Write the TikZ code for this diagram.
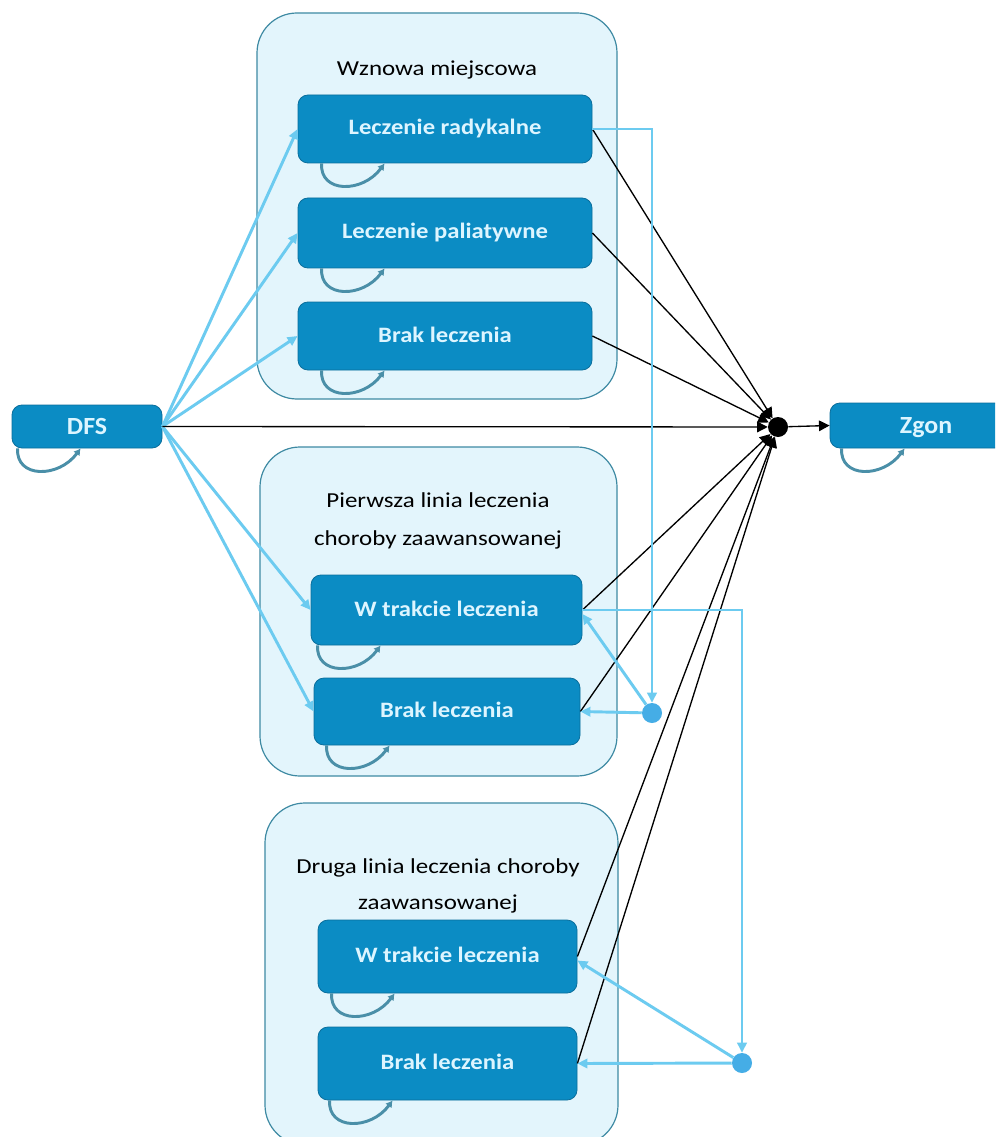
\documentclass[tikz,border=0pt]{standalone}
\usepackage{fontspec}
\setmainfont{Carlito}
\newfontfamily\widefont{Carlito}[FakeStretch=1.12]
\newfontfamily\titlefont{Carlito}[FakeStretch=1.17]
\newfontfamily\bigfont{Carlito}[FakeStretch=1.05]
\usetikzlibrary{arrows.meta,calc}
\definecolor{nodefill}{HTML}{0B8CC4}
\definecolor{nodeedge}{HTML}{0A6E9C}
\definecolor{nodetext}{HTML}{DDF5FF}
\definecolor{groupfill}{HTML}{E3F5FC}
\definecolor{groupedge}{HTML}{3E8AA3}
\definecolor{bluelink}{HTML}{6CCBF0}
\definecolor{bluedot}{HTML}{45ADE6}
\definecolor{loopcol}{HTML}{4A8FA8}
\newcommand\selfloop[2]{\draw[loopline] ($(#1.south west)+(#2,0)$) .. controls +(-2,30) and +(-22,30) .. ($(#1.south west)+(#2+63,0)$);}
\begin{document}
\begin{tikzpicture}[x=0.75pt,y=-0.75pt,
  group/.style={draw=groupedge, fill=groupfill, line width=0.9pt, rounded corners=30pt},
  grouptitle/.style={text=black, inner sep=0pt, font=\titlefont\fontsize{16}{28.5}\selectfont},
  state/.style={draw=nodeedge, fill=nodefill, rounded corners=7.5pt, line width=0.6pt, text=nodetext,
    font=\widefont\bfseries\fontsize{16.5}{19}\selectfont, inner sep=0pt, text height=11.5pt, text depth=2.5pt},
  bigstate/.style={state, font=\bigfont\bfseries\fontsize{18.5}{21}\selectfont, text height=13pt, text depth=1pt},
  bdot/.style={circle, fill=bluedot, minimum size=15pt, inner sep=0pt},
  kdot/.style={circle, fill=black, minimum size=15pt, inner sep=0pt},
  blink/.style={draw=bluelink, line width=2.2pt, -{Triangle[length=7.5pt,width=7pt]}},
  klink/.style={draw=black, line width=1pt, -{Triangle[length=8pt,width=8pt]}},
  loopline/.style={draw=loopcol, line width=2.2pt, -{Latex[length=5pt,width=6pt]}}
]
\useasboundingbox (0,0) rectangle (995,1137);
\clip (0,0) rectangle (995,1137);
\fill[white] (0,0) rectangle (995,1137);

% groups
\path[group] (257,13) rectangle (617,399);
\path[group] (260,447) rectangle (617,776);
\path[group] (265,803) rectangle (618,1145);

% titles
\node[grouptitle] (t1) at (437,70) {Wznowa miejscowa};
\node[grouptitle, align=center] (t2) at (438,521) {Pierwsza linia leczenia\\choroby zaawansowanej};
\node[grouptitle, align=center, font=\titlefont\fontsize{16}{26.5}\selectfont] (t3) at (438,886) {Druga linia leczenia choroby\\zaawansowanej};

% states
\node[state, minimum width=220.5pt, minimum height=51pt] (r1) at (445,129) {Leczenie radykalne};
\node[state, minimum width=220.5pt, minimum height=52.5pt] (p1) at (445,233) {Leczenie paliatywne};
\node[state, minimum width=220.5pt, minimum height=51pt] (b1) at (445,336) {Brak leczenia};
\node[state, minimum width=203.25pt, minimum height=52.5pt] (w2) at (446.5,610) {W trakcie leczenia};
\node[state, minimum width=199.5pt, minimum height=50.25pt] (b2) at (447,711.5) {Brak leczenia};
\node[state, minimum width=194.25pt, minimum height=54.75pt] (w3) at (447.5,956.5) {W trakcie leczenia};
\node[state, minimum width=194.25pt, minimum height=54.75pt] (b3) at (447.5,1063.5) {Brak leczenia};
\node[bigstate, minimum width=112.5pt, minimum height=32.25pt] (dfs) at (87,426.5) {DFS};
\node[bigstate, minimum width=144pt, minimum height=33.75pt] (zgon) at (926,425.5) {Zgon};

% dots
\node[bdot] (bd2) at (652,713) {};
\node[bdot] (bd3) at (742,1063) {};
\node[kdot] (kd) at (778,427) {};

% self loops
\selfloop{r1}{24}
\selfloop{p1}{24}
\selfloop{b1}{24}
\selfloop{w2}{7}
\selfloop{b2}{13}
\selfloop{w3}{14}
\selfloop{b3}{12}
\selfloop{dfs}{6}
\selfloop{zgon}{12}

% blue links from DFS
\draw[blink] (dfs.east) -- (r1.west);
\draw[blink] (dfs.east) -- (p1.west);
\draw[blink] (dfs.east) -- (b1.west);
\draw[blink] (dfs.east) -- (w2.west);
\draw[blink] (dfs.east) -- (b2.west);

% black links to death
\draw[klink] (dfs.east) -- (kd);
\foreach \n in {r1,p1,b1,w2,b2,w3,b3} {\draw[klink] (\n.east) -- (kd);}
\draw[klink] (kd) -- (zgon.west);

% progression
\draw[blink] (r1.east) -| (bd2);
\draw[blink] (bd2) -- (b2.east);
\draw[blink] (bd2) -- ([yshift=-3pt]w2.east);
\draw[blink] (w2.east) -| (bd3);
\draw[blink] (bd3) -- (b3.east);
\draw[blink] (bd3) -- ([yshift=-3pt]w3.east);
\end{tikzpicture}
\end{document}
